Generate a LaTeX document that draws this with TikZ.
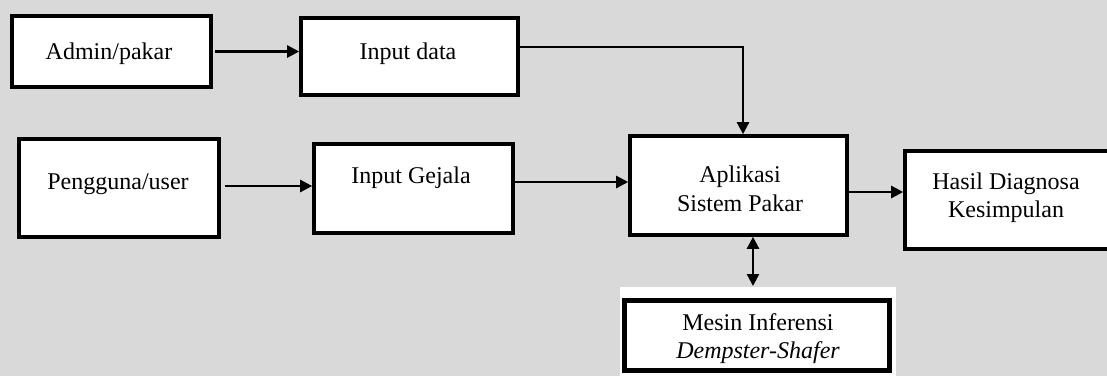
\documentclass[tikz,border=0pt]{standalone}
\usepackage{fontspec}
\setmainfont{Liberation Serif}
\usetikzlibrary{arrows.meta}
\definecolor{pagegray}{RGB}{217,217,217}
\tikzset{
  block/.style={draw=black, fill=white, line width=3.6pt, rectangle, inner sep=0pt},
  lbl/.style={anchor=base, inner sep=0pt, font=\fontsize{24}{28}\selectfont},
  arr/.style={line width=2.4pt, -{Triangle[length=12pt,width=12pt]}},
  dblarr/.style={line width=2.4pt, {Triangle[length=12pt,width=12pt]}-{Triangle[length=12pt,width=12pt]}}
}
\begin{document}
\begin{tikzpicture}[x=1pt,y=-1pt]
  \useasboundingbox (0,0) rectangle (1107,376);
  \clip (0,0) rectangle (1107,376);
  \fill[pagegray] (0,0) rectangle (1107,376);

  % blocks
  \node[block, minimum width=199pt, minimum height=71pt] (admin)    at (111.5,51.5) {};
  \node[block, minimum width=217pt, minimum height=77pt] (indata)   at (409.5,56.5) {};
  \node[block, minimum width=200pt, minimum height=98pt] (user)     at (119,188) {};
  \node[block, minimum width=199pt, minimum height=89pt] (ingejala) at (413.5,188.5) {};
  \node[block, minimum width=217pt, minimum height=99pt] (app)      at (738.5,185.5) {};
  \node[block, minimum width=207pt, minimum height=98pt] (hasil)    at (1008.5,200) {};
  \fill[white] (620,287) rectangle (896,380);
  \node[block, line width=4.6pt, minimum width=265pt, minimum height=70pt] (mesin) at (757,335.5) {};

  % labels
  \node[lbl] at (109,59)   {Admin/pakar};
  \node[lbl] at (408,59)   {Input data};
  \node[lbl] at (118,189)  {Pengguna/user};
  \node[lbl] at (411,183)  {Input Gejala};
  \node[lbl] at (740,182)  {Aplikasi};
  \node[lbl] at (740,211)  {Sistem Pakar};
  \node[lbl] at (1006,189) {Hasil Diagnosa};
  \node[lbl] at (1006,217) {Kesimpulan};
  \node[lbl] at (758,330)  {Mesin Inferensi};
  \node[lbl] at (758,358)  {\itshape Dempster-Shafer};

  % connectors
  \draw[arr, shorten <=2pt] (admin.east) -- (admin.east -| indata.west);
  \draw[arr] (indata.east |- 0,47) -| ([xshift=4.5pt]app.north);
  \draw[arr, shorten <=4pt] (user.east |- 0,186) -- (ingejala.west |- 0,186);
  \draw[arr] (ingejala.east |- 0,182) -- (app.west |- 0,182);
  \draw[arr] (app.east |- 0,192) -- (hasil.west |- 0,192);
  \coordinate (mesintop) at ([xshift=-4pt]mesin.north |- 0,286);
  \draw[dblarr] ([xshift=14.5pt]app.south) -- (mesintop);
\end{tikzpicture}
\end{document}
